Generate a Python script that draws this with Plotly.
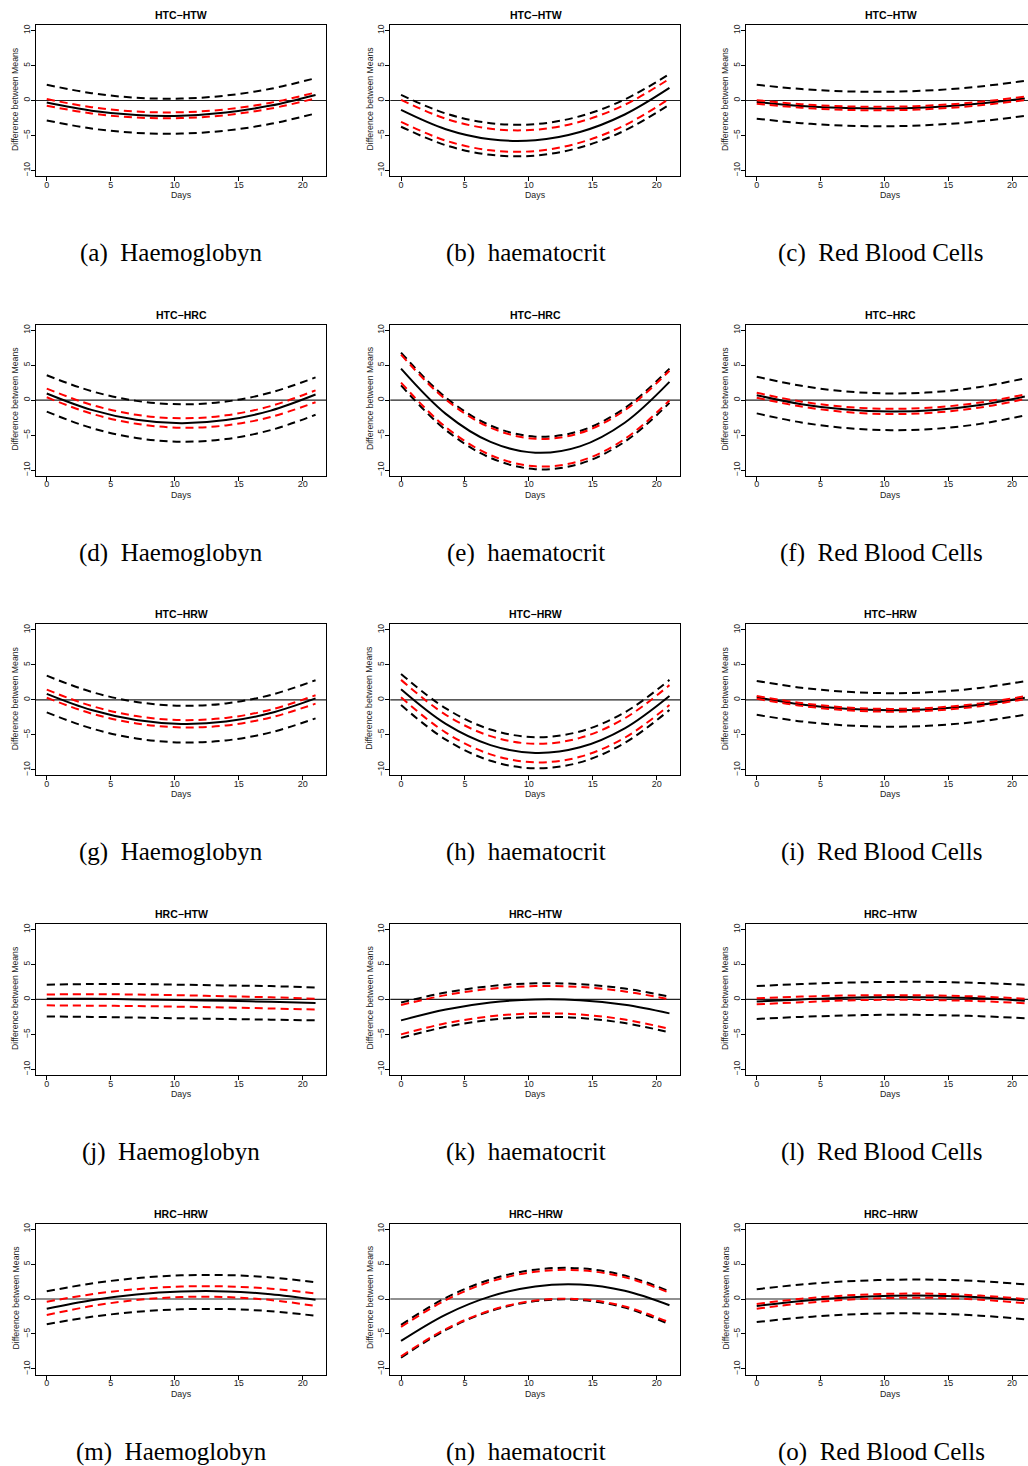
import plotly.graph_objects as go

# Days at which the fitted differences were read
DAYS = [0, 3.5, 7, 10.5, 14, 17.5, 21]

# Panel titles (group contrasts), row by row
PANEL_TITLES = (["HTC\u2212HTW"] * 3 + ["HTC\u2212HRC"] * 3 + ["HTC\u2212HRW"] * 3
                + ["HRC\u2212HTW"] * 3 + ["HRC\u2212HRW"] * 3)

MEASURES = ["Haemoglobyn", "haematocrit", "Red Blood Cells"]
LETTERS = "abcdefghijklmno"

# Estimated difference between means (solid black), one list per panel
MEAN_DIFF = [
    [-0.3, -1.46, -2.08, -2.17, -1.72, -0.73, 0.8],
    [-1.35, -4.11, -5.55, -5.68, -4.50, -2.00, 1.8],
    [-0.2, -0.78, -1.09, -1.14, -0.93, -0.44, 0.3],
    [0.95, -1.40, -2.81, -3.3, -2.86, -1.50, 0.8],
    [4.5, -1.97, -5.98, -7.53, -6.62, -3.24, 2.6],
    [0.7, -0.58, -1.36, -1.64, -1.42, -0.71, 0.5],
    [0.85, -1.47, -2.90, -3.45, -3.12, -1.90, 0.2],
    [1.5, -3.45, -6.48, -7.6, -6.80, -4.08, 0.55],
    [0.35, -0.67, -1.29, -1.5, -1.31, -0.71, 0.3],
    [0.1, 0.1, 0.0, -0.1, -0.2, -0.35, -0.5],
    [-3.0, -1.44, -0.44, 0.0, -0.11, -0.78, -2.0],
    [-0.3, 0.0, 0.25, 0.35, 0.3, 0.15, -0.2],
    [-1.4, -0.17, 0.65, 1.07, 1.09, 0.69, -0.1],
    [-6.0, -2.23, 0.37, 1.8, 2.07, 1.17, -0.9],
    [-1.0, -0.28, 0.20, 0.45, 0.47, 0.25, -0.2],
]

# Inner band (red dashed), upper and lower limits
INNER_UPPER = [
    [0.2, -0.95, -1.58, -1.68, -1.26, -0.32, 1.15],
    [0.1, -2.61, -4.04, -4.18, -3.04, -0.61, 3.1],
    [0.05, -0.53, -0.84, -0.89, -0.68, -0.19, 0.55],
    [1.65, -0.68, -2.10, -2.6, -2.18, -0.85, 1.4],
    [6.5, 0.07, -3.94, -5.53, -4.71, -1.46, 4.2],
    [1.05, -0.22, -0.98, -1.25, -1.04, -0.35, 0.8],
    [1.45, -0.88, -2.33, -2.9, -2.59, -1.41, 0.65],
    [2.85, -2.15, -5.2, -6.3, -5.45, -2.65, 2.1],
    [0.55, -0.47, -1.09, -1.3, -1.11, -0.51, 0.5],
    [0.7, 0.75, 0.7, 0.6, 0.45, 0.3, 0.1],
    [-0.8, 0.61, 1.51, 1.9, 1.78, 1.14, 0.0],
    [0.15, 0.4, 0.55, 0.6, 0.55, 0.4, 0.1],
    [-0.4, 0.68, 1.40, 1.78, 1.80, 1.48, 0.8],
    [-4.0, -0.16, 2.48, 3.9, 4.11, 3.11, 0.9],
    [-0.7, 0.03, 0.51, 0.75, 0.75, 0.49, 0.0],
]
INNER_LOWER = [
    [-0.75, -1.85, -2.44, -2.52, -2.09, -1.15, 0.3],
    [-3.05, -5.74, -7.13, -7.23, -6.03, -3.54, 0.25],
    [-0.45, -1.03, -1.34, -1.39, -1.18, -0.69, 0.05],
    [0.4, -1.94, -3.39, -3.95, -3.62, -2.41, -0.3],
    [2.5, -3.87, -7.87, -9.48, -8.72, -5.57, -0.05],
    [0.35, -0.93, -1.71, -2.0, -1.77, -1.06, 0.15],
    [0.3, -1.97, -3.38, -3.95, -3.67, -2.53, -0.55],
    [0.35, -4.69, -7.80, -8.95, -8.16, -5.43, -0.75],
    [0.15, -0.87, -1.49, -1.7, -1.51, -0.91, 0.1],
    [-0.85, -0.9, -0.95, -1.05, -1.15, -1.3, -1.45],
    [-5.0, -3.42, -2.42, -2.0, -2.16, -2.89, -4.2],
    [-0.7, -0.4, -0.15, -0.05, -0.1, -0.25, -0.55],
    [-2.3, -1.01, -0.15, 0.28, 0.28, -0.15, -1.0],
    [-8.2, -4.30, -1.64, -0.21, -0.02, -1.07, -3.35],
    [-1.4, -0.63, -0.11, 0.15, 0.16, -0.09, -0.6],
]

# Outer band (black dashed), upper and lower limits
OUTER_UPPER = [
    [2.25, 1.05, 0.39, 0.28, 0.71, 1.68, 3.2],
    [0.8, -1.86, -3.25, -3.38, -2.25, 0.14, 3.8],
    [2.25, 1.64, 1.31, 1.26, 1.49, 2.01, 2.8],
    [3.55, 1.28, -0.11, -0.6, -0.21, 1.08, 3.25],
    [6.8, 0.37, -3.64, -5.23, -4.41, -1.16, 4.5],
    [3.35, 2.04, 1.24, 0.95, 1.16, 1.88, 3.1],
    [3.45, 1.13, -0.30, -0.85, -0.52, 0.70, 2.8],
    [3.7, -1.23, -4.25, -5.35, -4.53, -1.80, 2.85],
    [2.7, 1.73, 1.15, 0.95, 1.13, 1.70, 2.65],
    [2.1, 2.2, 2.2, 2.1, 2.0, 1.9, 1.7],
    [-0.45, 0.98, 1.90, 2.3, 2.18, 1.55, 0.4],
    [1.9, 2.2, 2.4, 2.5, 2.5, 2.35, 2.1],
    [1.1, 2.22, 2.98, 3.38, 3.42, 3.09, 2.4],
    [-3.7, 0.16, 2.79, 4.2, 4.39, 3.36, 1.1],
    [1.4, 2.07, 2.52, 2.75, 2.76, 2.54, 2.1],
]
OUTER_LOWER = [
    [-2.85, -4.01, -4.63, -4.73, -4.30, -3.34, -1.85],
    [-3.75, -6.40, -7.77, -7.88, -6.72, -4.30, -0.6],
    [-2.6, -3.24, -3.61, -3.68, -3.47, -2.98, -2.2],
    [-1.65, -3.99, -5.42, -5.95, -5.57, -4.29, -2.1],
    [2.1, -4.28, -8.27, -9.88, -9.11, -5.95, -0.4],
    [-1.9, -3.20, -4.0, -4.3, -4.1, -3.4, -2.2],
    [-1.8, -4.10, -5.53, -6.1, -5.81, -4.66, -2.65],
    [-0.75, -5.70, -8.72, -9.8, -8.95, -6.17, -1.45],
    [-2.15, -3.09, -3.66, -3.85, -3.66, -3.09, -2.15],
    [-2.45, -2.5, -2.6, -2.7, -2.8, -2.9, -3.0],
    [-5.5, -3.92, -2.92, -2.5, -2.66, -3.39, -4.7],
    [-2.8, -2.5, -2.3, -2.2, -2.25, -2.4, -2.7],
    [-3.6, -2.55, -1.84, -1.47, -1.44, -1.75, -2.4],
    [-8.4, -4.43, -1.73, -0.3, -0.13, -1.23, -3.6],
    [-3.3, -2.65, -2.23, -2.05, -2.10, -2.38, -2.9],
]

X_TICKS = [0, 5, 10, 15, 20]
Y_TICKS = [-10, -5, 0, 5, 10]

# ---- page geometry (pixels) ----
W, H = 1028, 1466
COL_X0 = [36.0, 390.3, 746.0]
COL_X1 = [326.3, 680.2, 1028.0]
COL_XRANGE = [(-0.84, 21.84), (-0.84, 21.84), (-0.84, 21.25)]
COL_CENTER = [181.0, 535.5, 890.5]
COL_YLAB_X = [15.0, 369.5, 725.0]
COL_CAPTION_X = [171.0, 526.0, 881.0]
ROW_OFF = [0.0, 299.6, 599.3, 898.9, 1198.5]
BOX_TOP, BOX_BOTTOM = 25.0, 176.0
Y_RANGE = (-10.8, 10.8)

SANS = "Liberation Sans, Arial, sans-serif"
SERIF = "Liberation Serif, Times New Roman, serif"
DASH = "8px,5px"


def px_x(x):
    return x / W


def px_y(y):
    return 1 - y / H


fig = go.Figure()
annotations = []
shapes = []

for i in range(15):
    r, c = divmod(i, 3)
    n = i + 1
    xa = "x" if n == 1 else f"x{n}"
    ya = "y" if n == 1 else f"y{n}"
    off = ROW_OFF[r]

    fig.add_trace(go.Scatter(x=DAYS, y=MEAN_DIFF[i], mode="lines",
                             line=dict(color="black", width=2, shape="spline"),
                             xaxis=xa, yaxis=ya, showlegend=False, hoverinfo="skip"))
    for band in (OUTER_UPPER, OUTER_LOWER):
        fig.add_trace(go.Scatter(x=DAYS, y=band[i], mode="lines",
                                 line=dict(color="black", width=2, dash=DASH, shape="spline"),
                                 xaxis=xa, yaxis=ya, showlegend=False, hoverinfo="skip"))
    for band in (INNER_UPPER, INNER_LOWER):
        fig.add_trace(go.Scatter(x=DAYS, y=band[i], mode="lines",
                                 line=dict(color="#ff0000", width=2, dash=DASH, shape="spline"),
                                 xaxis=xa, yaxis=ya, showlegend=False, hoverinfo="skip"))

    xdom = [px_x(COL_X0[c]), px_x(COL_X1[c])]
    ydom = [px_y(BOX_BOTTOM + off), px_y(BOX_TOP + off)]
    axis_common = dict(showline=True, linecolor="black", linewidth=1,
                       ticks="outside", ticklen=4, tickwidth=1, tickcolor="black",
                       showgrid=False, zeroline=False, fixedrange=True)
    fig.update_layout({
        ("xaxis" if n == 1 else f"xaxis{n}"): dict(
            domain=xdom, anchor=ya, range=list(COL_XRANGE[c]),
            tickvals=X_TICKS, mirror=True, ticklabelstandoff=-4,
            tickfont=dict(family=SANS, size=9, color="#222"), **axis_common),
        ("yaxis" if n == 1 else f"yaxis{n}"): dict(
            domain=ydom, anchor=xa, range=list(Y_RANGE),
            tickvals=Y_TICKS, tickangle=-90, mirror=(c != 2), ticklabelstandoff=-2,
            tickfont=dict(family=SANS, size=8.5, color="#222"), **axis_common),
    })

    # horizontal reference line at zero difference
    shapes.append(dict(type="line", xref=f"{xa} domain", yref=ya,
                       x0=0, x1=1, y0=0, y1=0, layer="below",
                       line=dict(color="#222", width=1.2)))

    # panel title
    annotations.append(dict(text=f"<b>{PANEL_TITLES[i]}</b>", xref="paper", yref="paper",
                            x=px_x(COL_CENTER[c]), y=px_y(15 + off), showarrow=False,
                            xanchor="center", yanchor="middle",
                            font=dict(family=SANS, size=10.5, color="black")))
    # x-axis label
    annotations.append(dict(text="Days", xref="paper", yref="paper",
                            x=px_x(COL_CENTER[c]), y=px_y(195 + off), showarrow=False,
                            xanchor="center", yanchor="middle",
                            font=dict(family=SANS, size=8.8, color="#222")))
    # y-axis label
    annotations.append(dict(text="Difference between Means", xref="paper", yref="paper",
                            x=px_x(COL_YLAB_X[c]), y=px_y(99 + off), showarrow=False,
                            textangle=-90, xanchor="center", yanchor="middle",
                            font=dict(family=SANS, size=8.7, color="#222")))
    # sub-figure caption
    annotations.append(dict(text=f"({LETTERS[i]})\u2002{MEASURES[c]}", xref="paper", yref="paper",
                            x=px_x(COL_CAPTION_X[c]), y=px_y(253 + off), showarrow=False,
                            xanchor="center", yanchor="middle",
                            font=dict(family=SERIF, size=25, color="black")))

fig.update_layout(width=W, height=H, margin=dict(l=0, r=0, t=0, b=0),
                  paper_bgcolor="white", plot_bgcolor="white",
                  annotations=annotations, shapes=shapes, showlegend=False)

fig.write_html("out.html", config=dict(displayModeBar=False))
